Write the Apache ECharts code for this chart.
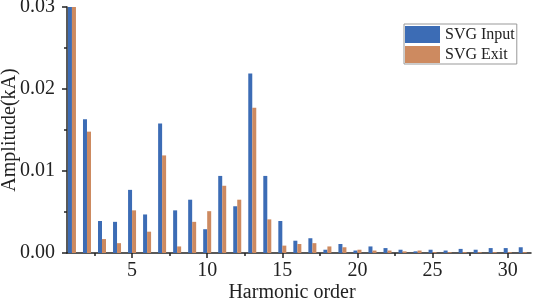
<!DOCTYPE html>
<html>
<head>
<meta charset="utf-8">
<script src="https://cdn.jsdelivr.net/npm/echarts@6/dist/echarts.min.js"></script>
<style>
  html, body { margin: 0; padding: 0; background: #fff; }
  #chart { width: 533px; height: 301px; }
</style>
</head>
<body>
<div id="chart"></div>
<script>
// harmonic orders 1..31
var harmonics = [1, 2, 3, 4, 5, 6, 7, 8, 9, 10, 11, 12, 13, 14, 15, 16,
  17, 18, 19, 20, 21, 22, 23, 24, 25, 26, 27, 28, 29, 30, 31];
// amplitude (kA)
var svgInput = [0.0305, 0.0163, 0.0039, 0.0038, 0.0077, 0.0047, 0.0158, 0.0052, 0.0065, 0.0029,
  0.0094, 0.0057, 0.0219, 0.0094, 0.0039, 0.0015, 0.0018, 0.0004, 0.0011, 0.0003,
  0.0008, 0.0006, 0.0004, 0.0002, 0.0004, 0.0003, 0.0005, 0.0004, 0.0006, 0.0006, 0.0007];
var svgExit = [0.0305, 0.0148, 0.0017, 0.0012, 0.0052, 0.0026, 0.0119, 0.0008, 0.0038, 0.0051,
  0.0082, 0.0065, 0.0177, 0.0041, 0.0009, 0.0011, 0.0012, 0.0008, 0.0007, 0.0004,
  0.0003, 0.0003, 0.0002, 0.0003, 0.0001, 0.0001, 0.0001, 0.0001, 0.0001, 0.0001, 0.0001];
var xLabels = [5, 10, 15, 20, 25, 30];
var xMinorTicks = [2.5, 7.5, 12.5, 17.5, 22.5, 27.5];

var font = '"Liberation Serif", "Times New Roman", serif';

function pairs(vals) {
  return harmonics.map(function (h, i) { return [h, vals[i]]; });
}

var chart = echarts.init(document.getElementById('chart'));
chart.setOption({
  animation: false,
  grid: { left: 67, right: 2, top: 7, bottom: 48, outerBoundsMode: 'none', containLabel: false },
  legend: {
    data: ['SVG Input', 'SVG Exit'],
    orient: 'vertical',
    left: 404,
    top: 24,
    icon: 'rect',
    itemWidth: 35,
    itemHeight: 17,
    itemGap: 3,
    padding: [2, 2, 1, 1],
    borderColor: '#999',
    borderWidth: 1,
    textStyle: { fontFamily: font, fontSize: 16, color: '#222' }
  },
  xAxis: [
    {
      type: 'value',
      min: 0.67,
      max: 31.55,
      name: 'Harmonic order',
      nameLocation: 'middle',
      nameGap: 30,
      nameMoveOverlap: false,
      nameTextStyle: { fontFamily: font, fontSize: 20, color: '#222', padding: [0, 14, 0, 0] },
      splitLine: { show: false },
      axisLine: { lineStyle: { color: '#222', width: 1.5 } },
      axisTick: { customValues: xLabels, length: 5, lineStyle: { color: '#222', width: 1.5 } },
      axisLabel: { customValues: xLabels, fontFamily: font, fontSize: 20, color: '#222', margin: 8 }
    },
    {
      type: 'value',
      position: 'bottom',
      min: 0.67,
      max: 31.55,
      splitLine: { show: false },
      axisLine: { show: false },
      axisTick: { customValues: xMinorTicks, length: 3, lineStyle: { color: '#222', width: 1.5 } },
      axisLabel: { show: false }
    }
  ],
  yAxis: {
    type: 'value',
    min: 0,
    max: 0.03,
    interval: 0.01,
    name: 'Amplitude(kA)',
    nameLocation: 'middle',
    nameGap: 47,
    nameMoveOverlap: false,
    nameTextStyle: { fontFamily: font, fontSize: 20, color: '#222' },
    splitLine: { show: false },
    axisLine: { show: true, lineStyle: { color: '#222', width: 1.5 } },
    axisTick: { show: true, length: 5, lineStyle: { color: '#222', width: 1.5 } },
    minorTick: { show: true, splitNumber: 2, length: 3, lineStyle: { color: '#222', width: 1.5 } },
    axisLabel: {
      fontFamily: font, fontSize: 20, color: '#222', margin: 12,
      formatter: function (v) { return v.toFixed(2); }
    }
  },
  series: [
    {
      name: 'SVG Input',
      type: 'bar',
      data: pairs(svgInput),
      barWidth: 4,
      barGap: '0%',
      itemStyle: { color: '#3C6CB5' }
    },
    {
      name: 'SVG Exit',
      type: 'bar',
      data: pairs(svgExit),
      barWidth: 4,
      barGap: '0%',
      itemStyle: { color: '#CD8A60' }
    }
  ]
});
</script>
</body>
</html>
